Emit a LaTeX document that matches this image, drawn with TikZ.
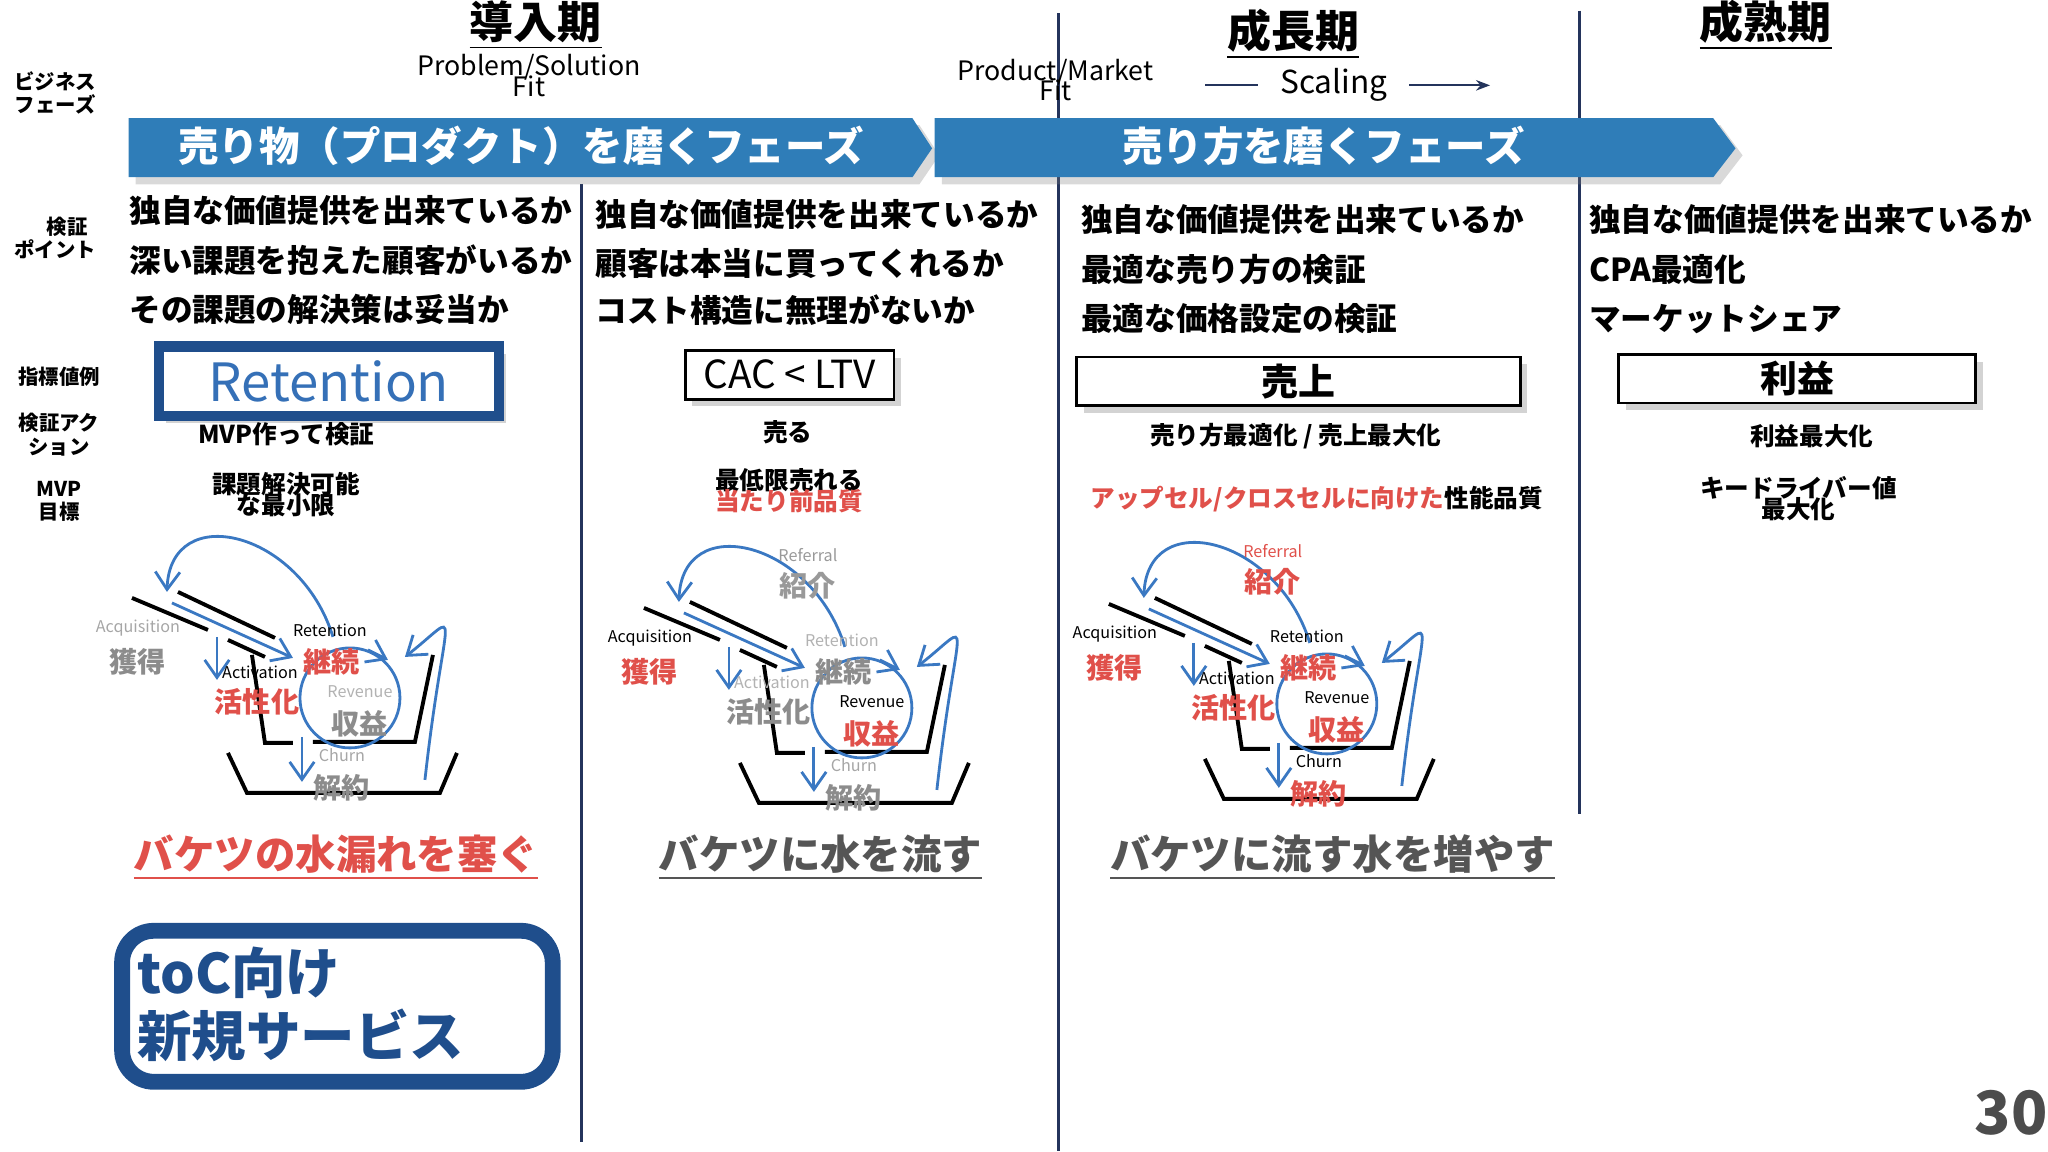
\documentclass[tikz,border=0pt]{standalone}
\usepackage{fontspec}
\setmainfont{Noto Sans CJK JP}
\usetikzlibrary{arrows.meta,shadows}
\definecolor{band}{HTML}{2F7DB8}
\definecolor{navy}{HTML}{1F4E8C}
\definecolor{vline}{HTML}{24345C}
\definecolor{redt}{HTML}{E0504A}
\definecolor{bblue}{HTML}{3A78C2}
\definecolor{capgray}{HTML}{555555}
\tikzset{
 lab/.style={font=\bfseries\fontsize{5.8}{6.6}\selectfont,align=center,inner sep=0},
 chk/.style={font=\bfseries\fontsize{9}{9}\selectfont,anchor=west,inner sep=0},
 act/.style={font=\bfseries\fontsize{7}{7.5}\selectfont,align=center,inner sep=0},
 metric/.style={draw=black,line width=0.8pt,fill=white,drop shadow={shadow xshift=2pt,shadow yshift=-2pt,opacity=.35},inner sep=0},
 captxt/.style={font=\bfseries\fontsize{11.5}{12}\selectfont,inner sep=1pt},
 blk/.style={line width=1.1pt,black},
 blu/.style={line width=0.8pt,bblue},
 bar/.style={blu,-{Straight Barb[length=5pt,width=7pt]}},
 en/.style={font=\fontsize{4.6}{5}\selectfont,inner sep=0},
 jp/.style={font=\bfseries\fontsize{8}{8}\selectfont,inner sep=0},
 divl/.style={vline,line width=0.8pt},
}
\newcommand\bucketdraw[3]{%
\begin{scope}[x=0.01cm,y=-0.01cm,shift={(#1,#2)}]
 \draw[blk] (132,598)--(208,630);
 \draw[blk] (178,592)--(275,638);
 \draw[blk] (228,640)--(265,657);
 \draw[blk] (252,655)--(265,743)--(293,743);
 \draw[blk] (313,742)--(415,742)--(433,655);
 \draw[blk] (228,753)--(247,793)--(440,793)--(457,753);
 \draw[blu] (350,698) circle (50);
 \draw[bar] (368,650)--(388,660);
 \draw[bar] (172,603)--(293,658);
 \draw[bar] (217,637)--(217,680);
 \draw[bar] (302,737)--(302,782);
 \draw[bar] (333,637) .. controls (300,530) and (170,500) .. (167,592);
 \draw[bar] (425,780) .. controls (445,600) and (465,610) .. (405,657);
 \node[en,text=cA] (#3acqe) at (138,628) {Acquisition};
 \node[jp,text=cAj] (#3acq) at (138,662) {獲得};
 \node[en,text=cR] (#3rete) at (330,630) {Retention};
 \node[jp,text=cRj] (#3ret) at (332,662) {継続};
 \node[en,text=cT] (#3acte) at (260,672) {Activation};
 \node[jp,text=cTj] (#3act) at (257,702) {活性化};
 \node[en,text=cV] (#3reve) at (360,692) {Revenue};
 \node[jp,text=cVj] (#3rev) at (360,724) {収益};
 \node[en,text=cC] (#3chue) at (342,755) {Churn};
 \node[jp,text=cCj] (#3chu) at (342,788) {解約};
\end{scope}}
\newcommand\referral[4]{%
\begin{scope}[x=0.01cm,y=-0.01cm,shift={(#1,#2)}]
 \node[en,text=#3] (ref#4e) at (296,545) {Referral};
 \node[jp,text=#3] (ref#4) at (296,576) {紹介};
\end{scope}}
\begin{document}
\begin{tikzpicture}[x=0.01313cm,y=-0.01313cm]
\useasboundingbox (0,0) rectangle (1560,877.4);
% dividers
\draw[divl] (806,10) coordinate (d1a) -- (806,877) coordinate (d1b);
\draw[divl] (443,140) coordinate (d2a) -- (443,870) coordinate (d2b);
\draw[divl] (1203,8) coordinate (d3a) -- (1203,620) coordinate (d3b);
% titles
\node[font=\bfseries\fontsize{12.5}{13}\selectfont,inner sep=1pt] (t1) at (408,19) {\underline{導入期}};
\node[font=\bfseries\fontsize{12.5}{13}\selectfont,inner sep=1pt] (t2) at (985,26) {\underline{成長期}};
\node[font=\bfseries\fontsize{12.5}{13}\selectfont,inner sep=1pt] (t3) at (1345,19) {\underline{成熟期}};
\node[font=\fontsize{7.6}{8}\selectfont,inner sep=0] (psf) at (403,51) {Problem/Solution};
\node[font=\fontsize{7.6}{8}\selectfont,inner sep=0] (psf2) at (403,66) {Fit};
\node[font=\fontsize{7.6}{8}\selectfont,inner sep=0] (pmf) at (804,55) {Product/Market};
\node[font=\fontsize{7.6}{8}\selectfont,inner sep=0] (pmf2) at (804,69) {Fit};
\node[font=\fontsize{9}{9}\selectfont,inner sep=0] (sc) at (1016,65) {Scaling};
\coordinate (scl) at (918,65); \coordinate (scr) at (1135,65);
\draw[line width=0.6pt,vline] (scl) -- ([xshift=-6]sc.west);
\draw[line width=0.6pt,vline,-{Stealth[length=4pt]}] ([xshift=6]sc.east) -- (scr);
% left labels
\node[lab] (l1) at (42,71) {ビジネス\\フェーズ};
\node[lab] (l2) at (42,181) {\hspace*{1.2em}検証\\ポイント};
\node[lab] (l3) at (45,287) {指標値例};
\node[lab] (l4) at (45,331) {検証アク\\ション};
\node[lab] (l5) at (45,382) {MVP\\目標};
% banners
\fill[band,drop shadow={shadow xshift=2pt,shadow yshift=-2pt,opacity=.3}] (98,90)--(695,90)--(710,113)--(695,135)--(98,135)--cycle;
\fill[band,drop shadow={shadow xshift=2pt,shadow yshift=-2pt,opacity=.3}] (712,90)--(1305,90)--(1322,113)--(1305,135)--(712,135)--cycle;
\node[text=white,font=\bfseries\fontsize{11.5}{12}\selectfont] (b1) at (397,111) {売り物（プロダクト）を磨くフェーズ};
\node[text=white,font=\bfseries\fontsize{11.5}{12}\selectfont] (b2) at (1008,111) {売り方を磨くフェーズ};
% check points
\node[chk] (c11) at (98,160) {独自な価値提供を出来ているか};
\node[chk] (c12) at (98,198) {深い課題を抱えた顧客がいるか};
\node[chk] (c13) at (98,236) {その課題の解決策は妥当か};
\node[chk] (c21) at (453,163) {独自な価値提供を出来ているか};
\node[chk] (c22) at (453,201) {顧客は本当に買ってくれるか};
\node[chk] (c23) at (453,236) {コスト構造に無理がないか};
\node[chk] (c31) at (823,167) {独自な価値提供を出来ているか};
\node[chk] (c32) at (823,205) {最適な売り方の検証};
\node[chk] (c33) at (823,243) {最適な価格設定の検証};
\node[chk] (c41) at (1210,167) {独自な価値提供を出来ているか};
\node[chk] (c42) at (1210,205) {CPA最適化};
\node[chk] (c43) at (1210,243) {マーケットシェア};
% metrics
\node[metric,draw=navy,line width=3pt,minimum width=259*0.01313cm,minimum height=53*0.01313cm,text=bblue!80!navy,font=\fontsize{15}{15}\selectfont] (m1) at (250.5,290.5) {Retention};
\node[metric,minimum width=159*0.01313cm,minimum height=37*0.01313cm,font=\fontsize{11}{11}\selectfont] (m2) at (601.5,285.5) {CAC < LTV};
\node[metric,minimum width=338*0.01313cm,minimum height=37*0.01313cm,font=\bfseries\fontsize{10.5}{11}\selectfont] (m3) at (989,290.5) {売上};
\node[metric,minimum width=272*0.01313cm,minimum height=37*0.01313cm,font=\bfseries\fontsize{10.5}{11}\selectfont] (m4) at (1369,288.5) {利益};
% actions
\node[act] (a1) at (218,331) {MVP作って検証};
\node[act] (a2) at (600,329) {売る};
\node[act] (a3) at (987,332) {売り方最適化 / 売上最大化};
\node[act] (a4) at (1380,332) {利益最大化};
% MVP goals
\node[act] (g1) at (218,377) {課題解決可能\\[-1.5pt]な最小限};
\node[act] (g2) at (601,374) {最低限売れる\\[-1.5pt]\textcolor{redt}{当たり前品質}};
\node[act] (g3) at (1003,380) {\textcolor{redt}{アップセル/クロスセルに向けた}性能品質};
\node[act] (g4) at (1370,380) {キードライバー値\\[-1.5pt]最大化};
% buckets
\colorlet{cA}{black!35}\colorlet{cAj}{black!45}
\colorlet{cR}{black}\colorlet{cRj}{redt}
\colorlet{cT}{black}\colorlet{cTj}{redt}
\colorlet{cV}{black!30}\colorlet{cVj}{black!45}
\colorlet{cC}{black!35}\colorlet{cCj}{black!45}
\bucketdraw{0}{0}{bA}
\colorlet{cA}{black}\colorlet{cAj}{redt}
\colorlet{cR}{black!30}\colorlet{cRj}{black!45}
\colorlet{cT}{black!30}\colorlet{cTj}{black!45}
\colorlet{cV}{black}\colorlet{cVj}{redt}
\colorlet{cC}{black!35}\colorlet{cCj}{black!45}
\bucketdraw{512}{10}{bB}
\referral{512}{10}{black!40}{B}
\colorlet{cA}{black}\colorlet{cAj}{redt}
\colorlet{cR}{black}\colorlet{cRj}{redt}
\colorlet{cT}{black}\colorlet{cTj}{redt}
\colorlet{cV}{black}\colorlet{cVj}{redt}
\colorlet{cC}{black}\colorlet{cCj}{redt}
\bucketdraw{977}{6}{bC}
\referral{977}{6}{redt}{C}
% captions
\node[captxt,text=redt] (k1) at (256,653) {\underline{バケツの水漏れを塞ぐ}};
\node[captxt,text=capgray] (k2) at (625,653) {\underline{バケツに水を流す}};
\node[captxt,text=capgray] (k3) at (1015,653) {\underline{バケツに流す水を増やす}};
% toC box
\draw[navy,line width=4.5pt,rounded corners=9pt] (93,709) rectangle (421,824);
\node[text=navy,font=\bfseries\fontsize{15.5}{18}\selectfont,align=left,anchor=west,inner sep=0] (toc) at (104,765) {toC向け\\新規サービス};
% page number
\node[text=black!70,font=\bfseries\fontsize{17}{17}\selectfont,inner sep=0] (pg) at (1532,848) {30};
\end{tikzpicture}
\end{document}
